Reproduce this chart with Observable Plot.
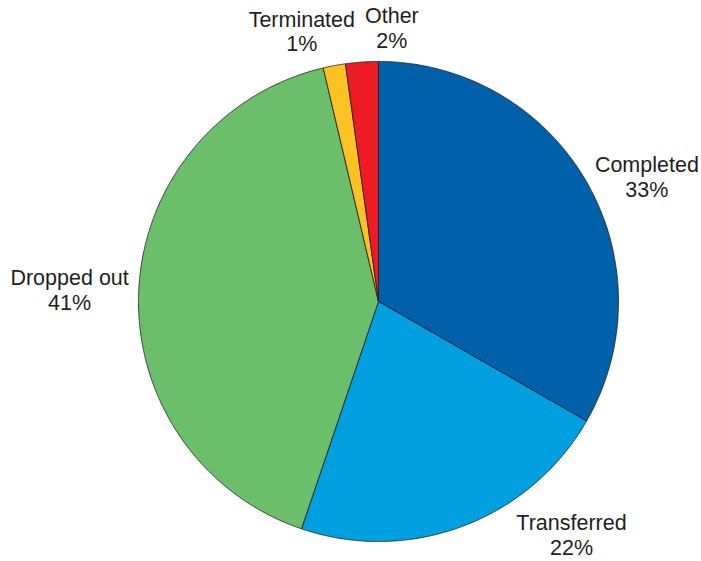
<!DOCTYPE html>
<html>
<head>
<meta charset="utf-8">
<script src="https://cdn.jsdelivr.net/npm/d3@7"></script>
<script src="https://cdn.jsdelivr.net/npm/@observablehq/plot@0.6"></script>
<style>
  html, body { margin: 0; padding: 0; background: #ffffff; }
  #chart svg { display: block; }
</style>
</head>
<body>
<div id="chart"></div>
<script>
// ---- data ----
const categories = ["Completed", "Transferred", "Dropped out", "Terminated", "Other"];
const shares = [33.3, 21.9, 41.1, 1.5, 2.2];
const percentLabels = ["33%", "22%", "41%", "1%", "2%"];
const colors = ["#0061aa", "#00a0e0", "#6cbf6a", "#fcc224", "#ed1c24"];

// ---- layout ----
const W = 701, H = 561;
const CX = 378, CY = 301, RPX = 240;           // pie centre and radius in pixels
const FONT = '"Liberation Sans", Arial, Helvetica, sans-serif';
const FONT_SIZE = 21.5, LINE_H = 1.15, GAP = 10, PAD = 2, SEP = 10;

const xDomain = [-CX / RPX, (W - CX) / RPX];
const yDomain = [-(H - CY) / RPX, CY / RPX];

// slices: clockwise from 12 o'clock
const total = d3.sum(shares);
let acc = 0;
const slices = categories.map((name, i) => {
  const a0 = acc / total * 2 * Math.PI;
  acc += shares[i];
  const a1 = acc / total * 2 * Math.PI;
  return {name, a0, a1, i};
});

// outline polygons of each slice (unit radius)
const outline = [];
for (const s of slices) {
  outline.push({name: s.name, x: 0, y: 0});
  const n = Math.max(2, Math.ceil((s.a1 - s.a0) / (Math.PI / 720)));
  for (let k = 0; k <= n; k++) {
    const a = s.a0 + (s.a1 - s.a0) * k / n;
    outline.push({name: s.name, x: Math.sin(a), y: Math.cos(a)});
  }
  outline.push({name: s.name, x: 0, y: 0});
}

// ---- label placement (pixel offsets from centre, y down) ----
const ctx = document.createElement("canvas").getContext("2d");
ctx.font = `${FONT_SIZE}px ${FONT}`;
const boxDist = (cx, cy, hw, hh) => {
  const nx = Math.max(0, Math.abs(cx) - hw), ny = Math.max(0, Math.abs(cy) - hh);
  return Math.hypot(nx, ny);
};
const labels = slices.map((s, i) => {
  const lines = [s.name, percentLabels[i]];
  const hw = d3.max(lines, t => ctx.measureText(t).width) / 2;
  const hh = lines.length * FONT_SIZE * LINE_H / 2;
  const inkHH = hh - 0.12 * FONT_SIZE;
  const m = (s.a0 + s.a1) / 2;
  const ux = Math.sin(m), uy = -Math.cos(m);
  const px = (RPX + GAP) * ux, py = (RPX + GAP) * uy;
  let cx, cy;
  if (Math.abs(ux) >= 0.3) { cx = px + Math.sign(ux) * hw; cy = py; }
  else { cx = px; cy = py + Math.sign(uy) * hh; }
  const top = -CY + inkHH + PAD, bot = H - CY - hh - PAD;
  if (cy < top || cy > bot) {
    cy = Math.min(bot, Math.max(top, cy));
    if (boxDist(cx, cy, hw, hh) < RPX + GAP) {
      const sgn = ux >= 0 ? 1 : -1;
      let l = Math.abs(cx), h = 1000;
      for (let k = 0; k < 60; k++) {
        const t = (l + h) / 2;
        if (boxDist(sgn * t, cy, hw, hh) < RPX + GAP) l = t; else h = t;
      }
      cx = sgn * h;
    }
  }
  return {cx, cy, hw, hh, text: lines.join("\n")};
});
// horizontal repel of overlapping labels
for (let iter = 0; iter < 20; iter++) {
  for (let a = 0; a < labels.length; a++) for (let b = a + 1; b < labels.length; b++) {
    const A = labels[a], B = labels[b];
    if (Math.abs(A.cy - B.cy) >= A.hh + B.hh) continue;
    const need = A.hw + B.hw + SEP, d = B.cx - A.cx;
    if (Math.abs(d) < need) {
      const push = (need - Math.abs(d)) / 2, s = d >= 0 ? 1 : -1;
      A.cx -= s * push; B.cx += s * push;
    }
  }
}
const labelData = labels.map(l => ({x: l.cx / RPX, y: -l.cy / RPX, text: l.text}));

const chart = Plot.plot({
  width: W,
  height: H,
  margin: 0,
  style: {background: "#ffffff", fontFamily: FONT},
  x: {domain: xDomain, axis: null},
  y: {domain: yDomain, axis: null},
  color: {domain: categories, range: colors},
  marks: [
    Plot.line(outline, {x: "x", y: "y", z: "name", fill: "name", stroke: "#1a1a1a",
      strokeWidth: 0.8, strokeLinejoin: "round", curve: "linear"}),
    Plot.text(labelData, {x: "x", y: "y", text: "text", fontSize: FONT_SIZE,
      lineHeight: LINE_H, fill: "#231f20", fontFamily: FONT, textAnchor: "middle"})
  ]
});
document.getElementById("chart").appendChild(chart);
</script>
</body>
</html>
